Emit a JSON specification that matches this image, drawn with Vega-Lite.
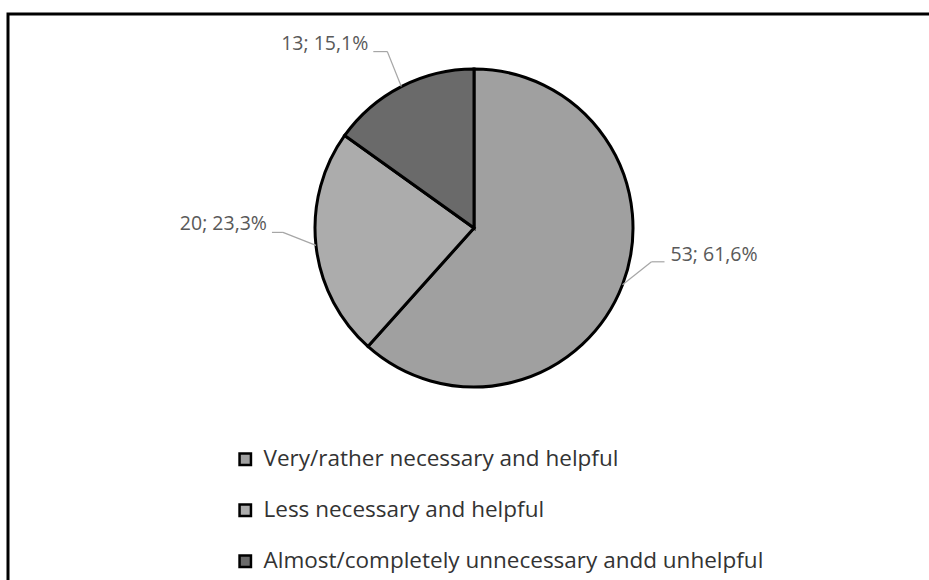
{
  "$schema": "https://vega.github.io/schema/vega-lite/v6.json",
  "width": 924,
  "height": 569,
  "autosize": {"type": "none"},
  "padding": {"left": 8, "top": 14, "right": 0, "bottom": 0},
  "background": "white",
  "config": {"view": {"stroke": "black", "strokeWidth": 3}},
  "data": {
    "values": [
      {"category": "Very/rather necessary and helpful", "count": 53, "label": "53; 61,6%"},
      {"category": "Less necessary and helpful", "count": 20, "label": "20; 23,3%"},
      {"category": "Almost/completely unnecessary andd unhelpful", "count": 13, "label": "13; 15,1%"}
    ]
  },
  "transform": [
    {"window": [{"op": "row_number", "as": "idx"}, {"op": "sum", "field": "count", "as": "cum"}], "frame": [null, 0]},
    {"joinaggregate": [{"op": "sum", "field": "count", "as": "total"}]},
    {"calculate": "2*PI*(datum.cum - datum.count/2)/datum.total", "as": "mid"},
    {"calculate": "466 + 159*sin(datum.mid)", "as": "ex"},
    {"calculate": "214 - 159*cos(datum.mid)", "as": "ey"},
    {"calculate": "datum.ex + (datum.idx == 1 ? 29 : datum.idx == 2 ? -33 : -14)", "as": "bx"},
    {"calculate": "datum.ey + (datum.idx == 1 ? -23 : datum.idx == 2 ? -13 : -35)", "as": "by"},
    {"calculate": "datum.bx + (datum.idx == 1 ? 13 : datum.idx == 2 ? -11 : -14)", "as": "tx"}
  ],
  "layer": [
    {
      "mark": {"type": "arc", "outerRadius": 159, "stroke": "black", "strokeWidth": 3},
      "encoding": {
        "theta": {"field": "count", "type": "quantitative", "stack": true},
        "order": {"field": "idx", "type": "quantitative"},
        "x": {"value": 466},
        "y": {"value": 214},
        "color": {
          "field": "category",
          "type": "nominal",
          "sort": ["Very/rather necessary and helpful", "Less necessary and helpful", "Almost/completely unnecessary andd unhelpful"],
          "scale": {
            "domain": ["Very/rather necessary and helpful", "Less necessary and helpful", "Almost/completely unnecessary andd unhelpful"],
            "range": ["#a0a0a0", "#acacac", "#6a6a6a"]
          },
          "legend": {
            "title": null,
            "orient": "none",
            "legendX": 226,
            "legendY": 434,
            "symbolType": "square",
            "symbolSize": 130,
            "symbolStrokeColor": "black",
            "symbolStrokeWidth": 2.5,
            "symbolOpacity": 1,
            "labelFont": "Open Sans",
            "labelFontSize": 22.5,
            "labelColor": "#333333",
            "labelOffset": 7,
            "labelLimit": 700,
            "rowPadding": 28
          }
        }
      }
    },
    {
      "mark": {"type": "rule", "stroke": "#a6a6a6", "strokeWidth": 1.2},
      "encoding": {
        "x": {"field": "ex", "type": "quantitative", "scale": null},
        "y": {"field": "ey", "type": "quantitative", "scale": null},
        "x2": {"field": "bx"},
        "y2": {"field": "by"}
      }
    },
    {
      "mark": {"type": "rule", "stroke": "#a6a6a6", "strokeWidth": 1.2},
      "encoding": {
        "x": {"field": "bx", "type": "quantitative", "scale": null},
        "y": {"field": "by", "type": "quantitative", "scale": null},
        "x2": {"field": "tx"}
      }
    },
    {
      "transform": [{"filter": "datum.idx == 1"}],
      "mark": {"type": "text", "align": "left", "baseline": "middle", "dx": 6, "dy": -7, "font": "Open Sans", "fontSize": 19.5, "fill": "#595959"},
      "encoding": {
        "x": {"field": "tx", "type": "quantitative", "scale": null},
        "y": {"field": "by", "type": "quantitative", "scale": null},
        "text": {"field": "label"}
      }
    },
    {
      "transform": [{"filter": "datum.idx != 1"}],
      "mark": {"type": "text", "align": "right", "baseline": "middle", "dx": -5, "dy": -8, "font": "Open Sans", "fontSize": 19.5, "fill": "#595959"},
      "encoding": {
        "x": {"field": "tx", "type": "quantitative", "scale": null},
        "y": {"field": "by", "type": "quantitative", "scale": null},
        "text": {"field": "label"}
      }
    }
  ]
}
